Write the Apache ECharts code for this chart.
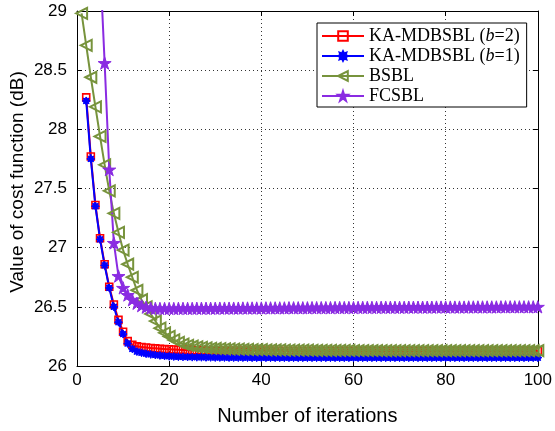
<!DOCTYPE html>
<html>
<head>
<meta charset="utf-8">
<script src="https://cdn.jsdelivr.net/npm/echarts@6/dist/echarts.min.js"></script>
<style>
  html, body { margin: 0; padding: 0; background: #fff; }
  #cost-chart { width: 555px; height: 431px; }
</style>
</head>
<body>
<div id="cost-chart"></div>
<script>
// iterations 1..100
var iterations = [];
for (var k = 1; k <= 100; ++k) iterations.push(k);

var seriesNames = ['KA-MDBSBL (b=2)', 'KA-MDBSBL (b=1)', 'BSBL', 'FCSBL'];

var kaB2 = [
  null, 28.27, 27.77, 27.36, 27.08, 26.86, 26.67, 26.52, 26.39, 26.29,
  26.21, 26.18, 26.166, 26.16, 26.156, 26.152, 26.149, 26.146, 26.143, 26.141,
  26.139, 26.137, 26.136, 26.134, 26.133, 26.132, 26.131, 26.131, 26.130, 26.130,
  26.130, 26.129, 26.129, 26.129, 26.129, 26.128, 26.128, 26.128, 26.128, 26.128,
  26.128, 26.128, 26.127, 26.127, 26.127, 26.127, 26.127, 26.127, 26.127, 26.127,
  26.127, 26.127, 26.127, 26.127, 26.127, 26.127, 26.127, 26.127, 26.127, 26.127,
  26.127, 26.127, 26.127, 26.127, 26.127, 26.127, 26.127, 26.127, 26.127, 26.127,
  26.127, 26.127, 26.127, 26.127, 26.127, 26.127, 26.127, 26.127, 26.127, 26.127,
  26.127, 26.127, 26.127, 26.127, 26.127, 26.127, 26.127, 26.127, 26.127, 26.127,
  26.127, 26.127, 26.127, 26.127, 26.127, 26.127, 26.127, 26.127, 26.127, 26.127
];

var kaB1 = [
  null, 28.24, 27.75, 27.35, 27.07, 26.85, 26.66, 26.50, 26.37, 26.27,
  26.19, 26.145, 26.122, 26.112, 26.104, 26.098, 26.093, 26.089, 26.085, 26.082,
  26.080, 26.078, 26.077, 26.076, 26.075, 26.074, 26.074, 26.073, 26.073, 26.072,
  26.072, 26.072, 26.071, 26.071, 26.071, 26.071, 26.071, 26.070, 26.070, 26.070,
  26.070, 26.070, 26.070, 26.070, 26.070, 26.070, 26.070, 26.070, 26.070, 26.070,
  26.070, 26.070, 26.070, 26.070, 26.070, 26.070, 26.070, 26.070, 26.070, 26.070,
  26.070, 26.070, 26.070, 26.070, 26.070, 26.070, 26.070, 26.070, 26.070, 26.070,
  26.070, 26.070, 26.070, 26.070, 26.070, 26.070, 26.070, 26.070, 26.070, 26.070,
  26.070, 26.070, 26.070, 26.070, 26.070, 26.070, 26.070, 26.070, 26.070, 26.070,
  26.070, 26.070, 26.070, 26.070, 26.070, 26.070, 26.070, 26.070, 26.070, 26.070
];

var bsbl = [
  28.98, 28.71, 28.44, 28.19, 27.94, 27.70, 27.48, 27.29, 27.13, 26.98,
  26.86, 26.75, 26.64, 26.56, 26.50, 26.44, 26.38, 26.32, 26.28, 26.25,
  26.22, 26.20, 26.185, 26.175, 26.167, 26.161, 26.157, 26.153, 26.150, 26.148,
  26.146, 26.145, 26.144, 26.143, 26.142, 26.141, 26.140, 26.139, 26.139, 26.138,
  26.137, 26.137, 26.136, 26.136, 26.135, 26.135, 26.135, 26.134, 26.134, 26.134,
  26.133, 26.133, 26.133, 26.133, 26.132, 26.132, 26.132, 26.132, 26.132, 26.131,
  26.131, 26.131, 26.131, 26.131, 26.131, 26.130, 26.130, 26.130, 26.130, 26.130,
  26.130, 26.130, 26.130, 26.130, 26.130, 26.130, 26.129, 26.129, 26.129, 26.129,
  26.129, 26.129, 26.129, 26.129, 26.129, 26.129, 26.129, 26.129, 26.129, 26.129,
  26.129, 26.129, 26.129, 26.129, 26.129, 26.129, 26.129, 26.129, 26.129, 26.129
];

var fcsbl = [
  null, null, null, null, 29.41, 28.56, 27.66, 27.04, 26.76, 26.66,
  26.60, 26.56, 26.53, 26.51, 26.497, 26.490, 26.487, 26.486, 26.486, 26.486,
  26.486, 26.487, 26.487, 26.487, 26.487, 26.488, 26.488, 26.488, 26.488, 26.488,
  26.489, 26.489, 26.489, 26.489, 26.489, 26.490, 26.490, 26.490, 26.490, 26.490,
  26.491, 26.491, 26.491, 26.491, 26.491, 26.492, 26.492, 26.492, 26.492, 26.492,
  26.493, 26.493, 26.493, 26.493, 26.493, 26.494, 26.494, 26.494, 26.494, 26.494,
  26.495, 26.495, 26.495, 26.495, 26.495, 26.496, 26.496, 26.496, 26.496, 26.496,
  26.496, 26.497, 26.497, 26.497, 26.497, 26.497, 26.497, 26.498, 26.498, 26.498,
  26.498, 26.498, 26.498, 26.498, 26.499, 26.499, 26.499, 26.499, 26.499, 26.499,
  26.499, 26.500, 26.500, 26.500, 26.500, 26.500, 26.500, 26.500, 26.500, 26.500
];

var starPath = 'path://M50,0 L61.2,34.6 L97.6,34.5 L68.1,55.9 L79.4,90.5 L50,69 L20.6,90.5 L31.9,55.9 L2.4,34.5 L38.8,34.6 Z';
var asteriskPath = 'path://M100,50 L77.7,61.5 L85.4,85.4 L61.5,77.7 L50,100 L38.5,77.7 L14.6,85.4 L22.3,61.5 L0,50 L22.3,38.5 L14.6,14.6 L38.5,22.3 L50,0 L61.5,22.3 L85.4,14.6 L77.7,38.5 Z';

function pairs(vals) {
  var out = [];
  for (var i = 0; i < iterations.length; ++i) {
    if (vals[i] != null) out.push([iterations[i], vals[i]]);
  }
  return out;
}

var gridLine = { show: true, lineStyle: { color: '#333', width: 1, type: [1, 3] } };
var axisFont = { fontFamily: 'Liberation Sans', fontSize: 17, color: '#000' };

var chart = echarts.init(document.getElementById('cost-chart'));
var option = {
  backgroundColor: '#fff',
  animation: false,
  grid: { left: 77, right: 14, top: 11, bottom: 64, containLabel: false },
  legend: {
    orient: 'vertical',
    left: 317,
    top: 23,
    padding: [4, 7, 2, 4],
    itemGap: 2,
    itemWidth: 42,
    itemHeight: 12,
    backgroundColor: '#fff',
    borderColor: '#000',
    borderWidth: 1,
    borderRadius: 0,
    data: seriesNames,
    formatter: function (name) {
      var m = name.match(/^(.*)\(b=(\d)\)$/);
      if (m) return '{n|' + m[1] + '(}{i|b}{n|=' + m[2] + ')}';
      return '{n|' + name + '}';
    },
    textStyle: {
      rich: {
        n: { fontFamily: 'Liberation Serif', fontSize: 18, color: '#000', lineHeight: 20 },
        i: { fontFamily: 'Liberation Serif', fontSize: 18, fontStyle: 'italic', color: '#000', lineHeight: 20 }
      }
    }
  },
  xAxis: [{
    type: 'value',
    min: 0, max: 100, interval: 20,
    name: 'Number of iterations',
    nameLocation: 'middle',
    nameGap: 40,
    nameTextStyle: { fontFamily: 'Liberation Sans', fontSize: 20, color: '#000' },
    axisLine: { show: true, lineStyle: { color: '#000', width: 1 } },
    axisTick: { show: true, inside: true, length: 5, lineStyle: { color: '#000' } },
    axisLabel: Object.assign({ margin: 6 }, axisFont),
    splitLine: gridLine
  }, {
    type: 'value', position: 'top',
    min: 0, max: 100, interval: 20,
    axisLine: { show: true, onZero: false, lineStyle: { color: '#000', width: 1 } },
    axisTick: { show: true, inside: true, length: 5, lineStyle: { color: '#000' } },
    axisLabel: { show: false },
    splitLine: { show: false }
  }],
  yAxis: [{
    type: 'value',
    min: 26, max: 29, interval: 0.5,
    axisLine: { show: true, lineStyle: { color: '#000', width: 1 } },
    axisTick: { show: true, inside: true, length: 5, lineStyle: { color: '#000' } },
    axisLabel: Object.assign({ margin: 10 }, axisFont),
    splitLine: gridLine
  }, {
    type: 'value', position: 'right',
    min: 26, max: 29, interval: 0.5,
    axisLine: { show: true, onZero: false, lineStyle: { color: '#000', width: 1 } },
    axisTick: { show: true, inside: true, length: 5, lineStyle: { color: '#000' } },
    axisLabel: { show: false },
    splitLine: { show: false }
  }],
  graphic: [{
    type: 'text',
    x: 18, y: 182,
    rotation: Math.PI / 2,
    style: {
      text: 'Value of cost function (dB)',
      fontFamily: 'Liberation Sans',
      fontSize: 19,
      fill: '#000',
      align: 'center',
      verticalAlign: 'middle'
    }
  }],
  series: [{
    name: seriesNames[0],
    type: 'line',
    data: pairs(kaB2),
    symbol: 'rect',
    symbolSize: 7,
    showAllSymbol: true,
    lineStyle: { color: '#ff0000', width: 2 },
    itemStyle: { color: 'rgba(255,255,255,0)', borderColor: '#ff0000', borderWidth: 1.6 }
  }, {
    name: seriesNames[1],
    type: 'line',
    data: pairs(kaB1),
    symbol: asteriskPath,
    symbolSize: 8,
    showAllSymbol: true,
    lineStyle: { color: '#0000ff', width: 2 },
    itemStyle: { color: '#0000ff', borderColor: '#0000ff', borderWidth: 1 }
  }, {
    name: seriesNames[2],
    type: 'line',
    data: pairs(bsbl),
    symbol: 'triangle',
    symbolSize: 11,
    symbolRotate: 90,
    showAllSymbol: true,
    lineStyle: { color: '#77933c', width: 2 },
    itemStyle: { color: 'rgba(255,255,255,0)', borderColor: '#77933c', borderWidth: 2 }
  }, {
    name: seriesNames[3],
    type: 'line',
    data: pairs(fcsbl),
    symbol: starPath,
    symbolSize: 13,
    symbolKeepAspect: true,
    showAllSymbol: true,
    lineStyle: { color: '#8a2be2', width: 2 },
    itemStyle: { color: '#8a2be2', borderColor: '#8a2be2', borderWidth: 1 }
  }]
};
chart.setOption(option);
</script>
</body>
</html>
